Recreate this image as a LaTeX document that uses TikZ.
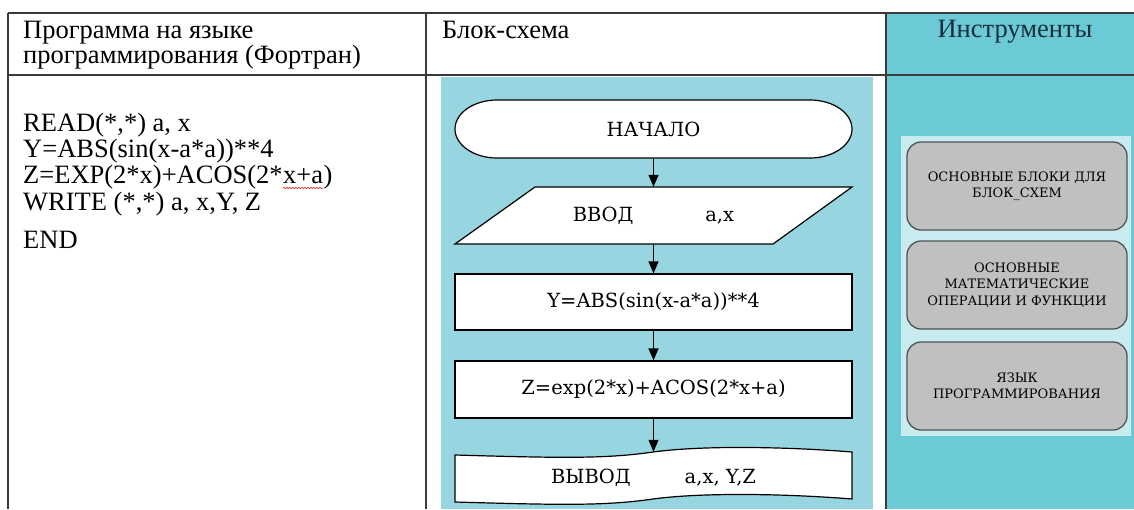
\documentclass[tikz,border=0pt]{standalone}
\usepackage{fontspec}
\setmainfont{Liberation Serif}
\newfontfamily\slab{DejaVu Serif}
\usetikzlibrary{arrows.meta,decorations.pathmorphing}
\definecolor{tabcyan}{HTML}{6CCAD7}
\definecolor{panelcyan}{HTML}{97D6E0}
\definecolor{panellight}{HTML}{C8EBEF}
\definecolor{boxgray}{HTML}{C0C0C0}
\definecolor{boxedge}{HTML}{4C5454}
\definecolor{gridline}{HTML}{3A3A3A}
\definecolor{headink}{HTML}{15303C}
\definecolor{spellred}{HTML}{D03030}
\begin{document}
\begin{tikzpicture}[x=1pt,y=-1pt,
  tabtext/.style={inner sep=0pt, anchor=base west, font=\fontsize{26.5}{28}\selectfont, text=black},
  flowtext/.style={inner sep=0pt, font=\slab\fontsize{19.5}{22}\selectfont},
  flowbox/.style={draw=black, line width=1.2pt, fill=white, inner sep=0pt, minimum width=397pt},
  holder/.style={inner sep=0pt, minimum width=397pt},
  toolbox/.style={draw=boxedge, line width=1.3pt, fill=boxgray, rounded corners=14pt,
     minimum width=220pt, minimum height=88pt, align=center, inner sep=2pt,
     font=\slab\fontsize{13}{16.5}\selectfont},
  flowarrow/.style={draw=black, line width=1.2pt, -{Triangle[width=10pt,length=12pt]}},
  gridrule/.style={draw=gridline, line width=1.1pt}
]
\useasboundingbox (0,0) rectangle (1134,509);
\fill[white] (0,0) rectangle (1134,509);
% fills
\fill[tabcyan] (886,13) rectangle (1134,509);
\fill[panelcyan] (441,77) rectangle (873,509);
\fill[panellight] (901,136) rectangle (1131,436);
% grid
\draw[gridrule] (8,13) -- (1134,13);
\draw[gridrule] (8,75) -- (1134,75);
\draw[gridrule] (8,13) -- (8,509);
\draw[gridrule] (426,13) -- (426,509);
\draw[gridrule] (886,13) -- (886,509);
% headers
\node[tabtext] (h1a) at (23,38) {Программа на языке};
\node[tabtext] (h1b) at (23,63) {программирования (Фортран)};
\node[tabtext] (h2) at (442,38) {Блок-схема};
\node[tabtext, anchor=base, text=headink] (h3) at (1015,37) {Инструменты};
% code
\node[tabtext] (c1) at (23,131) {READ(*,*) a, x};
\node[tabtext] (c2) at (23,157) {Y=ABS(sin(x-a*a))**4};
\node[tabtext] (c3a) at (23,183) {Z=EXP(2*x)+ACOS(2*};
\node[tabtext] (c3b) at (c3a.base east) {x+a};
\node[tabtext] (c3c) at (c3b.base east) {)};
\draw[spellred, line width=0.6pt, decorate, decoration={snake, amplitude=0.9pt, segment length=3pt}]
  ([yshift=-5pt]c3b.base west) -- ([yshift=-5pt]c3b.base east);
\node[tabtext] (c4) at (23,210) {WRITE (*,*) a, x,Y, Z};
\node[tabtext] (c5) at (23,248) {END};
% flowchart outlines
\draw[black, line width=1.2pt, fill=white]
  (497,100) -- (810,100)
  .. controls (833.2,100) and (852,113) .. (852,129)
  .. controls (852,145) and (833.2,158) .. (810,158)
  -- (497,158)
  .. controls (473.8,158) and (455,145) .. (455,129)
  .. controls (455,113) and (473.8,100) .. (497,100) -- cycle;
\draw[black, line width=1.2pt, fill=white]
  (535,187) -- (852,187) -- (773,244) -- (455,244) -- cycle;
\draw[black, line width=1.2pt, fill=white]
  (455,455) .. controls (560,458) and (605,459) .. (653,452)
  .. controls (705,445) and (790,447) .. (852,452)
  -- (852,499)
  .. controls (790,494) and (705,492) .. (653,499)
  .. controls (605,506) and (560,505) .. (455,502) -- cycle;
% flowchart nodes
\node[holder, minimum height=58pt, flowtext] (start) at (653.5,129) {НАЧАЛО};
\node[holder, minimum height=57pt, flowtext] (inp) at (653.5,215.5) {ВВОД\hspace{72pt}a,x};
\node[flowbox, minimum height=56pt, flowtext] (ycalc) at (653.5,302) {Y=ABS(sin(x-a*a))**4};
\node[flowbox, minimum height=57pt, flowtext] (zcalc) at (653.5,389.5) {Z=exp(2*x)+ACOS(2*x+a)};
\node[holder, minimum height=52pt, flowtext] (outp) at (653.5,478) {ВЫВОД\hspace{54pt}a,x, Y,Z};
\draw[flowarrow] (start) -- (inp);
\draw[flowarrow] (inp) -- (ycalc);
\draw[flowarrow] (ycalc) -- (zcalc);
\draw[flowarrow] (zcalc) -- (outp);
% tools
\node[toolbox] (t1) at (1017,186) {ОСНОВНЫЕ БЛОКИ ДЛЯ\\БЛОК\_СХЕМ};
\node[toolbox] (t2) at (1017,285) {ОСНОВНЫЕ\\МАТЕМАТИЧЕСКИЕ\\ОПЕРАЦИИ И ФУНКЦИИ};
\node[toolbox] (t3) at (1017,386) {ЯЗЫК\\ПРОГРАММИРОВАНИЯ};
\end{tikzpicture}
\end{document}
